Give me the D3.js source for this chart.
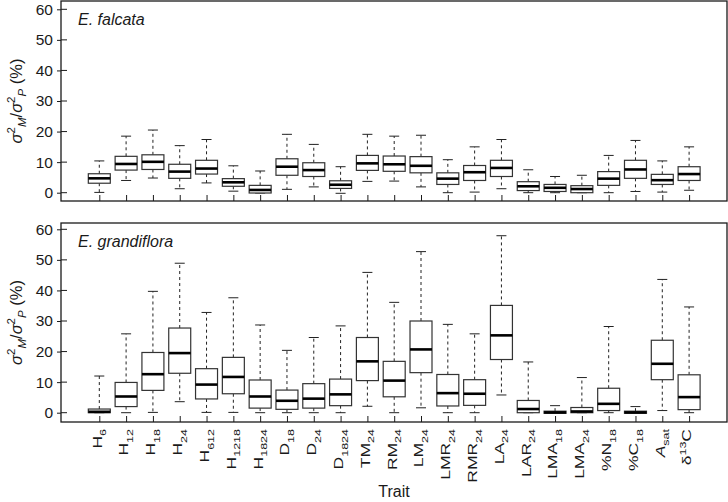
<!DOCTYPE html>
<html><head><meta charset="utf-8">
<script src="https://cdn.jsdelivr.net/npm/d3@7/dist/d3.min.js"></script>
<style>
body{margin:0;background:#fff;}
svg{display:block;font-family:"Liberation Sans",Arial,sans-serif;}
</style></head>
<body><svg id="c" width="728" height="502"></svg>
<script>
// ---- data ----
const categories = ["H_6","H_12","H_18","H_24","H_612","H_1218","H_1824","D_18","D_24","D_1824","TM_24","RM_24","LM_24","LMR_24","RMR_24","LA_24","LAR_24","LMA_18","LMA_24","%N_18","%C_18","A_sat","δ^13C"];
const yTicks = [0,10,20,30,40,50,60];
const panelNames = ["E. falcata","E. grandiflora"];

// E. falcata
const falcataLow  = [0.1,4.0,4.8,1.3,3.2,0.5,-0.1,1.1,1.9,-0.2,3.7,3.8,1.9,0.0,0.2,1.3,0.0,0.0,0.0,0.0,0.4,0.2,0.8];
const falcataQ1   = [3.1,7.4,7.6,4.7,6.1,2.1,-0.1,5.7,5.3,1.4,7.3,7.0,6.5,2.7,4.0,5.3,0.7,0.4,0.0,2.4,4.7,2.7,4.0];
const falcataMed  = [4.7,9.4,10.1,6.9,7.9,3.4,0.9,8.5,7.4,2.6,9.6,9.3,8.8,4.6,6.7,8.1,2.1,1.6,1.2,4.6,7.6,4.1,6.1];
const falcataQ3   = [6.2,11.9,12.4,9.3,10.6,4.6,2.4,11.1,9.8,3.9,12.2,12.0,11.8,6.5,8.9,10.6,3.6,2.7,2.3,6.9,10.6,6.0,8.5];
const falcataHigh = [10.4,18.5,20.5,15.4,17.4,8.8,7.1,19.1,15.8,8.5,19.1,18.5,18.8,10.8,15.0,17.4,7.5,5.3,5.7,12.2,17.1,10.4,15.0];

// E. grandiflora
const grandifloraLow  = [0.0,0.0,0.1,3.6,0.1,0.1,0.0,0.0,0.0,0.0,2.1,0.0,1.6,0.0,0.0,5.8,0.0,-0.2,0.0,0.0,-0.2,0.7,0.0];
const grandifloraQ1   = [0.0,2.0,7.3,12.9,4.5,6.2,1.5,1.1,1.5,2.3,10.5,5.2,13.1,2.2,2.4,17.4,0.0,-0.2,0.0,0.7,-0.2,10.8,1.0];
const grandifloraMed  = [0.3,5.3,12.6,19.5,9.2,11.7,5.3,3.9,4.6,6.0,16.8,10.5,20.7,6.4,6.2,25.3,1.2,0.1,0.4,2.9,0.1,16.0,5.1];
const grandifloraQ3   = [1.2,9.9,19.7,27.7,14.4,18.1,10.7,7.4,9.5,11.0,24.6,16.8,30.0,12.5,10.8,35.1,4.0,0.5,1.7,8.0,0.5,23.7,12.4];
const grandifloraHigh = [12.0,25.8,39.7,48.9,32.8,37.6,28.7,20.4,24.6,28.4,45.9,36.1,52.7,28.9,25.8,57.9,16.6,2.3,11.5,28.2,2.0,43.6,34.6];

// ---- layout ----
const svg = d3.select("#c");
const left = 61, right = 727;
const x = d3.scaleLinear().domain([0, categories.length - 1]).range([99.3, 689.1]);
const step = x(1) - x(0);
const boxW = step * 0.82;
const capW = 10;

const panels = [
  {name: panelNames[0], top: 1, bottom: 201, y: d3.scaleLinear().domain([0,60]).range([192.7, 9.3]),
   low: falcataLow, q1: falcataQ1, med: falcataMed, q3: falcataQ3, high: falcataHigh},
  {name: panelNames[1], top: 223, bottom: 422, y: d3.scaleLinear().domain([0,60]).range([412.7, 229.3]),
   low: grandifloraLow, q1: grandifloraQ1, med: grandifloraMed, q3: grandifloraQ3, high: grandifloraHigh}
];

const ink = "#1a1a1a";

panels.forEach(p => {
  const g = svg.append("g");
  const y = p.y;
  const ya = g.append("g").attr("transform", `translate(${left},0)`)
    .call(d3.axisLeft(y).tickValues(yTicks).tickSizeInner(4).tickSizeOuter(0).tickPadding(4));
  ya.select(".domain").remove();
  ya.selectAll("line").attr("stroke", ink);
  ya.selectAll("text").attr("font-size", 15.5).attr("fill", ink).attr("font-family", "Liberation Sans, Arial, sans-serif");
  g.selectAll(".yin").data(yTicks).join("line")
    .attr("x1", left).attr("x2", left + 6)
    .attr("y1", d => y(d)).attr("y2", d => y(d))
    .attr("stroke", ink).attr("stroke-width", 1);
  const xa = g.append("g").attr("transform", `translate(0,${p.bottom})`)
    .call(d3.axisBottom(x).tickValues(d3.range(categories.length)).tickSizeInner(-6).tickSizeOuter(0).tickFormat(""));
  xa.select(".domain").remove();
  xa.selectAll("line").attr("stroke", ink);

  const idx = d3.range(categories.length);
  const wg = g.append("g").attr("stroke", "#222").attr("stroke-width", 1);
  wg.selectAll(".wu").data(idx).join("line")
    .attr("x1", i => x(i)).attr("x2", i => x(i))
    .attr("y1", i => y(p.q3[i])).attr("y2", i => y(p.high[i]))
    .attr("stroke-dasharray", "3,3");
  wg.selectAll(".wl").data(idx).join("line")
    .attr("x1", i => x(i)).attr("x2", i => x(i))
    .attr("y1", i => y(p.q1[i])).attr("y2", i => y(p.low[i]))
    .attr("stroke-dasharray", "3,3");
  wg.selectAll(".cu").data(idx).join("line")
    .attr("x1", i => x(i) - capW/2).attr("x2", i => x(i) + capW/2)
    .attr("y1", i => y(p.high[i])).attr("y2", i => y(p.high[i]));
  wg.selectAll(".cl").data(idx).join("line")
    .attr("x1", i => x(i) - capW/2).attr("x2", i => x(i) + capW/2)
    .attr("y1", i => y(p.low[i])).attr("y2", i => y(p.low[i]));
  g.selectAll(".box").data(idx).join("rect")
    .attr("x", i => x(i) - boxW/2).attr("width", boxW)
    .attr("y", i => y(p.q3[i])).attr("height", i => Math.max(0.5, y(p.q1[i]) - y(p.q3[i])))
    .attr("fill", "#fff").attr("stroke", "#333").attr("stroke-width", 1.2);
  g.selectAll(".med").data(idx).join("line")
    .attr("x1", i => x(i) - boxW/2).attr("x2", i => x(i) + boxW/2)
    .attr("y1", i => y(p.med[i])).attr("y2", i => y(p.med[i]))
    .attr("stroke", "#000").attr("stroke-width", 2.6);
  g.append("rect").attr("x", left).attr("y", p.top).attr("width", right - left).attr("height", p.bottom - p.top)
    .attr("fill", "none").attr("stroke", ink).attr("stroke-width", 1.3);
  g.append("text").attr("x", 78).attr("y", p.top + 24).attr("font-size", 16).attr("font-style", "italic")
    .attr("fill", ink).text(p.name);
  const t = g.append("text")
    .attr("transform", `translate(22,${(p.top + p.bottom)/2}) rotate(-90)`)
    .attr("text-anchor", "middle").attr("font-size", 16.5).attr("fill", ink);
  t.append("tspan").attr("font-style", "italic").text("σ");
  t.append("tspan").attr("font-size", 11.5).attr("dy", -7).text("2");
  t.append("tspan").attr("font-size", 11.5).attr("font-style", "italic").attr("dy", 11).text("M");
  t.append("tspan").attr("dy", -4).text("/");
  t.append("tspan").attr("font-style", "italic").text("σ");
  t.append("tspan").attr("font-size", 11.5).attr("dy", -7).text("2");
  t.append("tspan").attr("font-size", 11.5).attr("font-style", "italic").attr("dy", 11).text("P");
  t.append("tspan").attr("dy", -4).text(" (%)");
});

// x category labels (bottom panel), slightly condensed across like the reference
const labG = svg.append("g").attr("fill", ink).attr("font-size", 17.5);
categories.forEach((c, i) => {
  const t = labG.append("text")
    .attr("transform", `translate(${x(i)},429) rotate(-90) scale(1,0.78)`)
    .attr("text-anchor", "end").attr("y", 3);
  if (c.includes("^")) {
    const m = c.match(/^(.*)\^(\d+)(.*)$/);
    t.append("tspan").text(m[1]);
    t.append("tspan").attr("font-size", 12.5).attr("dy", -7).text(m[2]);
    t.append("tspan").attr("dy", 7).text(m[3]);
  } else {
    const [base, sub] = c.split("_");
    const b = t.append("tspan").text(base);
    if (base === "A") b.attr("font-style", "italic");
    t.append("tspan").attr("font-size", 12.5).attr("dy", 6).text(sub);
  }
});
svg.append("text").attr("x", (left + right)/2).attr("y", 497).attr("text-anchor", "middle")
  .attr("font-size", 16).attr("fill", ink).text("Trait");
</script>
</body></html>
